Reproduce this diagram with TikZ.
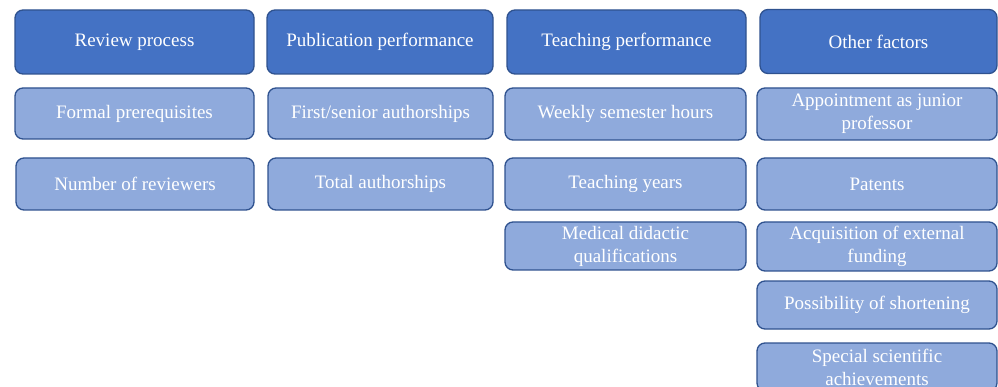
\documentclass[tikz,border=0pt]{standalone}
\usepackage{fontspec}
\setmainfont{Liberation Serif}
\definecolor{headfill}{HTML}{4472C4}
\definecolor{itemfill}{HTML}{8FAADC}
\definecolor{boxline}{HTML}{2F528F}
\tikzset{
  basebox/.style={draw=boxline, line width=1.3pt, rounded corners=8pt, text=white,
    align=center, inner sep=0pt, font=\fontsize{19}{23}\selectfont},
  headbox/.style={basebox, fill=headfill},
  itembox/.style={basebox, fill=itemfill},
}
\begin{document}
\begin{tikzpicture}[x=1pt,y=-1pt]
\useasboundingbox (0,0) rectangle (998,387);
% headers
\node[headbox, minimum width=239pt, minimum height=64pt] (h1) at (134.5,42) {Review process};
\node[headbox, minimum width=226pt, minimum height=64pt] (h2) at (380,42) {Publication performance};
\node[headbox, minimum width=239pt, minimum height=64pt] (h3) at (626.5,42) {Teaching performance};
\node[headbox, minimum width=237pt, minimum height=64pt] (h4) at (878.5,41.5) {Other factors};
% row 2
\node[itembox, minimum width=239pt, minimum height=51pt] (a1) at (134.5,113.5) {Formal prerequisites};
\node[itembox, minimum width=225pt, minimum height=51pt] (b1) at (380.5,113.5) {First/senior authorships};
\node[itembox, minimum width=241pt, minimum height=52pt] (c1) at (625.5,114) {Weekly semester hours};
\node[itembox, minimum width=240pt, minimum height=52pt] (d1) at (877,114) {Appointment as junior\\professor};
% row 3
\node[itembox, minimum width=238pt, minimum height=52pt] (a2) at (135,184) {Number of reviewers};
\node[itembox, minimum width=225pt, minimum height=52pt] (b2) at (380.5,184) {Total authorships};
\node[itembox, minimum width=241pt, minimum height=52pt] (c2) at (625.5,184) {Teaching years};
\node[itembox, minimum width=240pt, minimum height=52pt] (d2) at (877,184) {Patents};
% row 4
\node[itembox, minimum width=241pt, minimum height=48pt] (c3) at (625.5,246) {Medical didactic\\qualifications};
\node[itembox, minimum width=240pt, minimum height=49pt] (d3) at (877,246.5) {Acquisition of external\\funding};
\node[itembox, minimum width=240pt, minimum height=48pt] (d4) at (877,305) {Possibility of shortening};
\node[itembox, minimum width=240pt, minimum height=48pt] (d5) at (877,367) {Special scientific\\achievements};
\end{tikzpicture}
\end{document}
